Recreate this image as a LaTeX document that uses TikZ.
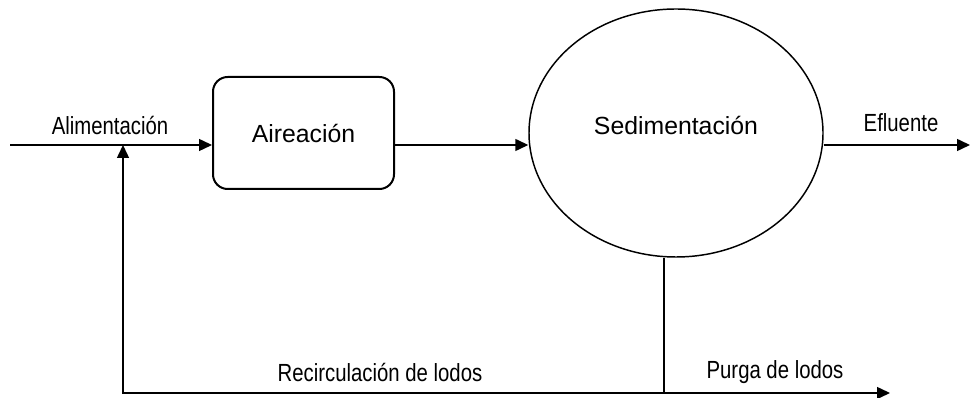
\documentclass[tikz,border=0pt]{standalone}
\usepackage{fontspec}
\setmainfont{Liberation Sans}
\newfontfamily\narrowLabel{Liberation Sans}[FakeStretch=0.82]
\usetikzlibrary{arrows.meta,shapes.geometric}

\newcommand{\flowLineWidth}{1.1pt}
\newcommand{\boxLineWidth}{1.5pt}
\newcommand{\mainLineY}{145}
\newcommand{\bottomLineY}{393}
\newcommand{\feedX}{10}
\newcommand{\recycleX}{123}
\newcommand{\drawOffX}{664}
\newcommand{\effluentX}{970}
\newcommand{\purgeX}{890}

\tikzset{
  flow/.style={line width=\flowLineWidth, black, -{Triangle[length=9.75pt,width=9pt]}},
  pipe/.style={line width=\flowLineWidth, black},
  procbox/.style={draw, line width=\boxLineWidth, rounded corners=11pt, minimum width=181*0.75pt, minimum height=112*0.75pt},
  settler/.style={draw, ellipse, line width=\flowLineWidth, minimum width=294*0.75pt, minimum height=248*0.75pt},
  unitText/.style={font=\fontsize{18.6}{22}\selectfont},
  streamText/.style={font=\narrowLabel\fontsize{18.6}{22}\selectfont}
}

\begin{document}
\begin{tikzpicture}[x=0.75pt,y=-0.75pt]
        \useasboundingbox (0,0) rectangle (971,398);

        % Units
        \node[procbox] (aireacion) at (303.5,133) {};
        \node[unitText] (aireacionText) at (303.5,133) {Aireación};
        \node[settler] (sedimentacion) at (676,133) {};
        \node[unitText] (sedimentacionText) at (676,125) {Sedimentación};

        % Stream end points
        \coordinate (feedStart) at (\feedX,\mainLineY);
        \coordinate (recycleIn) at (\recycleX,\mainLineY);
        \coordinate (effluentEnd) at (\effluentX,\mainLineY);
        \coordinate (sludgeJoin) at (\drawOffX,\bottomLineY);
        \coordinate (purgeEnd) at (\purgeX,\bottomLineY);

        % Draw main line
        \draw [flow] (feedStart) -- (feedStart -| aireacion.west);
        \draw [flow] (feedStart -| aireacion.east) -- (feedStart -| sedimentacion.west);
        \draw [flow] (feedStart -| sedimentacion.east) -- (effluentEnd);

        % Draw sludge lines
        \draw [pipe] (sludgeJoin |- sedimentacion.south) -- (sludgeJoin);
        \draw [flow] (sludgeJoin) -| (recycleIn);
        \draw [flow] (sludgeJoin) -- (purgeEnd);

        % Stream labels
        \node[streamText] (alimentacion) at (110,125) {Alimentación};
        \node[streamText] (efluente) at (901,123) {Efluente};
        \node[streamText] (recirculacion) at (380,372) {Recirculación de lodos};
        \node[streamText] (purga) at (775,372) {Purga de lodos};
    \end{tikzpicture}
\end{document}
